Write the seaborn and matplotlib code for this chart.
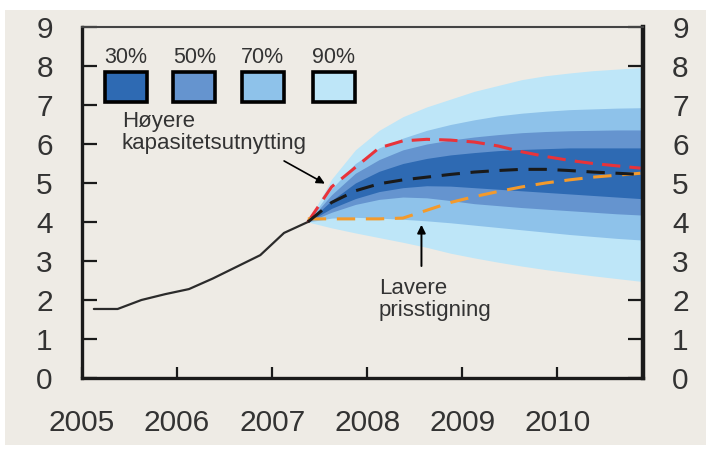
import numpy as np
import pandas as pd
import matplotlib
matplotlib.use("Agg")
import matplotlib.pyplot as plt
import seaborn as sns
from matplotlib.patches import Rectangle

# Historikk (kvartal)
hist_x = [2005.125, 2005.375, 2005.625, 2005.875, 2006.125, 2006.375,
          2006.625, 2006.875, 2007.125, 2007.375]
hist_y = [1.77, 1.77, 2.0, 2.15, 2.28, 2.55, 2.85, 3.15, 3.72, 4.0]

# Prognose (kvartal)
prog_x = [2007.375, 2007.625, 2007.875, 2008.125, 2008.375, 2008.625,
          2008.875, 2009.125, 2009.375, 2009.625, 2009.875, 2010.125,
          2010.375, 2010.625, 2010.875]
median = [4.0, 4.5, 4.8, 4.98, 5.08, 5.15, 5.22, 5.28, 5.32, 5.35, 5.35,
          5.32, 5.28, 5.25, 5.22]
hoy_kap = [4.0, 4.9, 5.4, 5.9, 6.08, 6.12, 6.1, 6.05, 5.95, 5.8, 5.68,
           5.58, 5.5, 5.44, 5.38]
lav_pris = [4.08, 4.08, 4.08, 4.08, 4.1, 4.3, 4.5, 4.65, 4.78, 4.9, 5.0,
            5.08, 5.15, 5.2, 5.25]

# Usikkerhetsvifte: (nedre, øvre)
up90 = [4.0, 5.1, 5.85, 6.35, 6.7, 6.95, 7.15, 7.35, 7.5, 7.65, 7.75,
        7.82, 7.88, 7.92, 7.96]
up70 = [4.0, 4.85, 5.5, 5.9, 6.15, 6.35, 6.5, 6.62, 6.72, 6.79, 6.84,
        6.88, 6.9, 6.92, 6.93]
up50 = [4.0, 4.7, 5.25, 5.6, 5.85, 6.0, 6.1, 6.18, 6.24, 6.29, 6.32,
        6.34, 6.35, 6.36, 6.36]
up30 = [4.0, 4.55, 5.0, 5.3, 5.5, 5.63, 5.72, 5.78, 5.83, 5.86, 5.88,
        5.9, 5.9, 5.9, 5.9]
lo30 = [4.0, 4.35, 4.6, 4.78, 4.88, 4.93, 4.92, 4.88, 4.84, 4.8, 4.76,
        4.72, 4.68, 4.64, 4.6]
lo50 = [4.0, 4.25, 4.45, 4.58, 4.64, 4.62, 4.55, 4.47, 4.42, 4.37, 4.33,
        4.29, 4.25, 4.21, 4.18]
lo70 = [4.0, 4.1, 4.12, 4.1, 4.07, 4.03, 3.98, 3.92, 3.86, 3.8, 3.74,
        3.68, 3.63, 3.58, 3.54]
lo90 = [4.0, 3.85, 3.72, 3.6, 3.48, 3.35, 3.2, 3.08, 2.97, 2.87, 2.78,
        2.7, 2.62, 2.55, 2.48]

band_labels = ["30%", "50%", "70%", "90%"]
band_colors = ["#2E6AB3", "#6594CF", "#8EC2EA", "#BEE6F8"]
years = [2005, 2006, 2007, 2008, 2009, 2010]

BG = "#EEEBE5"

sns.set_theme(style="white")
plt.rcParams["font.family"] = ["Liberation Sans", "DejaVu Sans"]

fig = plt.figure(figsize=(7.06, 4.49), dpi=100)
fig.patch.set_facecolor("white")
fig.patches.append(Rectangle((0.007, 0.009), 0.993, 0.969, transform=fig.transFigure,
                             facecolor=BG, edgecolor="none", zorder=-10))
ax = fig.add_axes([0.1161, 0.1581, 0.7947, 0.7818])
ax.set_facecolor(BG)

# Vifte, fra ytterst til innerst
bands = [(lo90, up90), (lo70, up70), (lo50, up50), (lo30, up30)]
for (lo, hi), col in zip(bands, band_colors[::-1]):
    ax.fill_between(prog_x, lo, hi, color=col, lw=0, zorder=1)

df_hist = pd.DataFrame({"x": hist_x, "y": hist_y})
sns.lineplot(data=df_hist, x="x", y="y", ax=ax, color="#2b2b2b", lw=1.6, zorder=4)

df_prog = pd.DataFrame({"x": prog_x, "median": median, "hoy": hoy_kap, "lav": lav_pris})
sns.lineplot(data=df_prog, x="x", y="hoy", ax=ax, color="#E8333A", lw=2.2,
             zorder=5).lines[-1].set_dashes((6, 3))
sns.lineplot(data=df_prog, x="x", y="median", ax=ax, color="#1a1a1a", lw=2.2,
             zorder=6).lines[-1].set_dashes((6, 3.5))
sns.lineplot(data=df_prog, x="x", y="lav", ax=ax, color="#F39A2C", lw=2.2,
             zorder=5).lines[-1].set_dashes((6, 3.5))

ax.set_xlim(2005, 2010.9)
ax.set_ylim(0, 9)
ax.set_xticks(years)
ax.set_xticklabels([str(y) for y in years])
ax.set_yticks(range(10))
ax.set_xlabel("")
ax.set_ylabel("")

ax.tick_params(axis="y", which="both", direction="in", length=11, width=1.6,
               labelsize=21.5, pad=21, left=True, right=True,
               labelleft=True, labelright=True, colors="#1a1a1a")
ax.tick_params(axis="y", labelcolor="#333333")
ax.tick_params(axis="x", direction="in", length=8, width=1.6, labelsize=21.5,
               pad=22, bottom=True, colors="#1a1a1a", labelcolor="#333333")

for side in ["left", "bottom"]:
    ax.spines[side].set_linewidth(2.4)
    ax.spines[side].set_color("#1a1a1a")
ax.spines["right"].set_linewidth(3.2)
ax.spines["right"].set_color("#1a1a1a")
ax.spines["top"].set_linewidth(1.5)
ax.spines["top"].set_color("#444444")
for sp in ax.spines.values():
    sp.set_zorder(8)

# Forklaring (bokser)
box_left = [2005.24, 2005.96, 2006.68, 2007.43]
for x0, lab, col in zip(box_left, band_labels, band_colors):
    ax.add_patch(Rectangle((x0, 7.08), 0.44, 0.77, facecolor=col,
                           edgecolor="black", lw=2.6, zorder=9))
    ax.text(x0 + 0.22, 8.22, lab, ha="center", va="center", fontsize=15.5,
            color="#333333", zorder=9)

ax.annotate("", xy=(2007.58, 4.95), xytext=(2007.1, 5.6),
            arrowprops=dict(arrowstyle="-|>", color="black", lw=1.2,
                            mutation_scale=12), zorder=9)
ax.text(2005.42, 6.3, "Høyere\nkapasitetsutnytting", ha="left", va="center",
        fontsize=16, color="#333333", linespacing=1.05, zorder=9)

ax.annotate("", xy=(2008.57, 4.0), xytext=(2008.57, 2.8),
            arrowprops=dict(arrowstyle="-|>", color="black", lw=1.4,
                            mutation_scale=12), zorder=9)
ax.text(2008.12, 2.02, "Lavere\nprisstigning", ha="left", va="center",
        fontsize=16, color="#333333", linespacing=1.05, zorder=9)

fig.savefig("out.png", dpi=100, facecolor=fig.get_facecolor())
